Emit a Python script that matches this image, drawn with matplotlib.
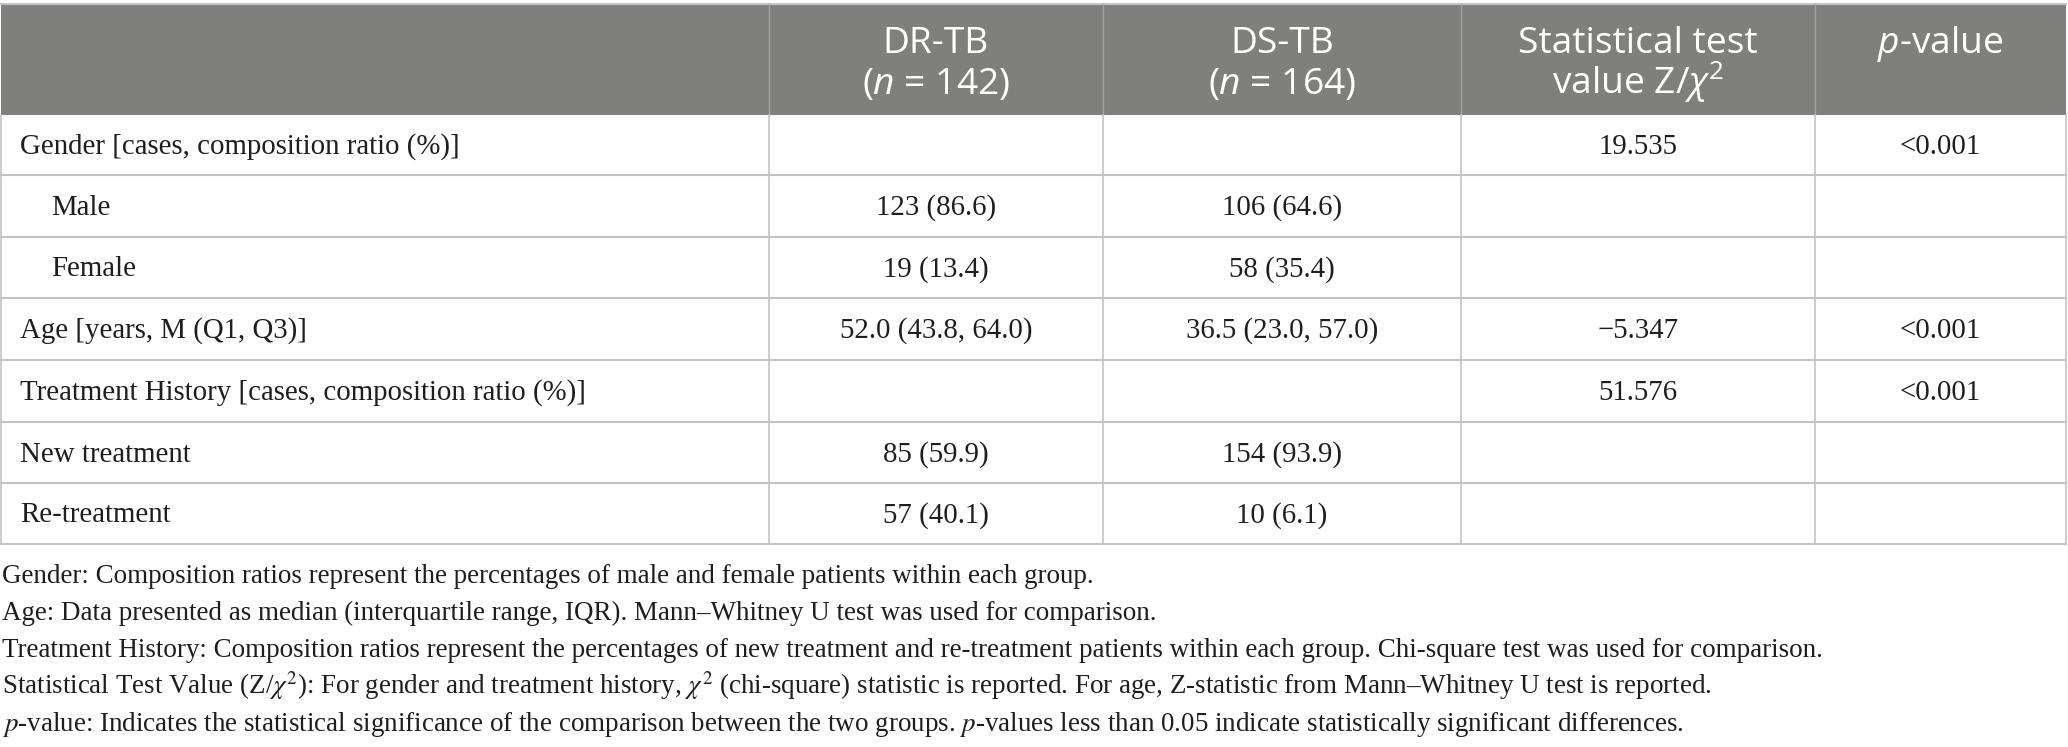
import matplotlib
matplotlib.use("Agg")
import matplotlib.pyplot as plt
from matplotlib.patches import Rectangle

# table content
header_top = ["", "DR-TB", "DS-TB", "Statistical test", "$\\mathit{p}$-value"]
header_bottom = ["", "($\\mathit{n}$ = 142)", "($\\mathit{n}$ = 164)", "value Z/$\\chi^2$", ""]

row_labels = [
    "Gender [cases, composition ratio (%)]",
    "Male",
    "Female",
    "Age [years, M (Q1, Q3)]",
    "Treatment History [cases, composition ratio (%)]",
    "New treatment",
    "Re-treatment",
]
row_indent = [False, True, True, False, False, False, False]
dr_tb = ["", "123 (86.6)", "19 (13.4)", "52.0 (43.8, 64.0)", "", "85 (59.9)", "57 (40.1)"]
ds_tb = ["", "106 (64.6)", "58 (35.4)", "36.5 (23.0, 57.0)", "", "154 (93.9)", "10 (6.1)"]
test_values = ["19.535", "", "", "\u22125.347", "51.576", "", ""]
p_values = ["<0.001", "", "", "<0.001", "<0.001", "", ""]

footnotes = [
    "Gender: Composition ratios represent the percentages of male and female patients within each group.",
    "Age: Data presented as median (interquartile range, IQR). Mann\u2013Whitney U test was used for comparison.",
    "Treatment History: Composition ratios represent the percentages of new treatment and re-treatment patients within each group. Chi-square test was used for comparison.",
    "Statistical Test Value (Z/$\\chi^2$): For gender and treatment history, $\\chi^2$ (chi-square) statistic is reported. For age, Z-statistic from Mann\u2013Whitney U test is reported.",
    "$\\mathit{p}$-value: Indicates the statistical significance of the comparison between the two groups. $\\mathit{p}$-values less than 0.05 indicate statistically significant differences.",
]

# fonts: sans for the header (custom mathtext), serif for body and notes (stix mathtext)
sans = "Open Sans"
serif = "Liberation Serif"
plt.rcParams["mathtext.fontset"] = "custom"
plt.rcParams["mathtext.rm"] = sans
plt.rcParams["mathtext.it"] = sans + ":italic"
plt.rcParams["mathtext.fallback"] = "stix"

W, H = 2068, 747
fig = plt.figure(figsize=(W / 100, H / 100), dpi=100)
ax = fig.add_axes([0, 0, 1, 1])
ax.set_xlim(0, W)
ax.set_ylim(H, 0)
ax.axis("off")
renderer = fig.canvas.get_renderer()


def width_of(s, size, family, mf):
    t = ax.text(0, 0, s, fontsize=size, family=family, math_fontfamily=mf)
    w = t.get_window_extent(renderer).width
    t.remove()
    return w


def fit(s, target, family, mf):
    return 20 * target / width_of(s, 20, family, mf)


head_size = fit("Statistical test", 239, sans, "custom")
body_size = fit(row_labels[0], 440, serif, "stix")
note_size = fit(footnotes[0], 1093, serif, "stix")

col_edges = [1, 769, 1103, 1461, 1815, 2066]
row_edges = [115, 175, 237, 298, 360, 422, 483, 544]
head_top = 4
grid = "#c3c3c3"
ink = "#1e1e1e"

# header band
ax.add_patch(Rectangle((col_edges[0], head_top), col_edges[-1] - col_edges[0],
                       row_edges[0] - head_top, facecolor="#7f807e", edgecolor="none"))
ax.plot([col_edges[0], col_edges[-1]], [head_top, head_top], color=grid, lw=1.5)
for x in col_edges[1:-1]:
    ax.plot([x, x], [head_top, row_edges[0]], color="#a3a3a3", lw=1.0)
for j in range(1, 5):
    cx = (col_edges[j] + col_edges[j + 1]) / 2
    ax.text(cx, 53, header_top[j], ha="center", va="baseline", color="white",
            fontsize=head_size, family=sans, math_fontfamily="custom")
    if header_bottom[j]:
        ax.text(cx, 94, header_bottom[j], ha="center", va="baseline", color="white",
                fontsize=head_size, family=sans, math_fontfamily="custom")

# body grid
for y in row_edges[1:]:
    ax.plot([col_edges[0], col_edges[-1]], [y, y], color=grid, lw=1.5)
for x in col_edges:
    ax.plot([x, x], [row_edges[0], row_edges[-1]], color=grid, lw=1.2)

# body text
columns = [dr_tb, ds_tb, test_values, p_values]
for i, label in enumerate(row_labels):
    base = (row_edges[i] + row_edges[i + 1]) / 2 + 9
    ax.text(51 if row_indent[i] else 20, base, label, ha="left", va="baseline",
            color=ink, fontsize=body_size, family=serif)
    for j, col in enumerate(columns):
        if col[i]:
            cx = (col_edges[j + 1] + col_edges[j + 2]) / 2
            ax.text(cx, base, col[i], ha="center", va="baseline", color=ink,
                    fontsize=body_size, family=serif)

# notes below the table
for k, note in enumerate(footnotes):
    ax.text(2, 583 + 37 * k, note, ha="left", va="baseline", color=ink,
            fontsize=note_size, family=serif, math_fontfamily="stix")

fig.savefig("out.png", dpi=100)
